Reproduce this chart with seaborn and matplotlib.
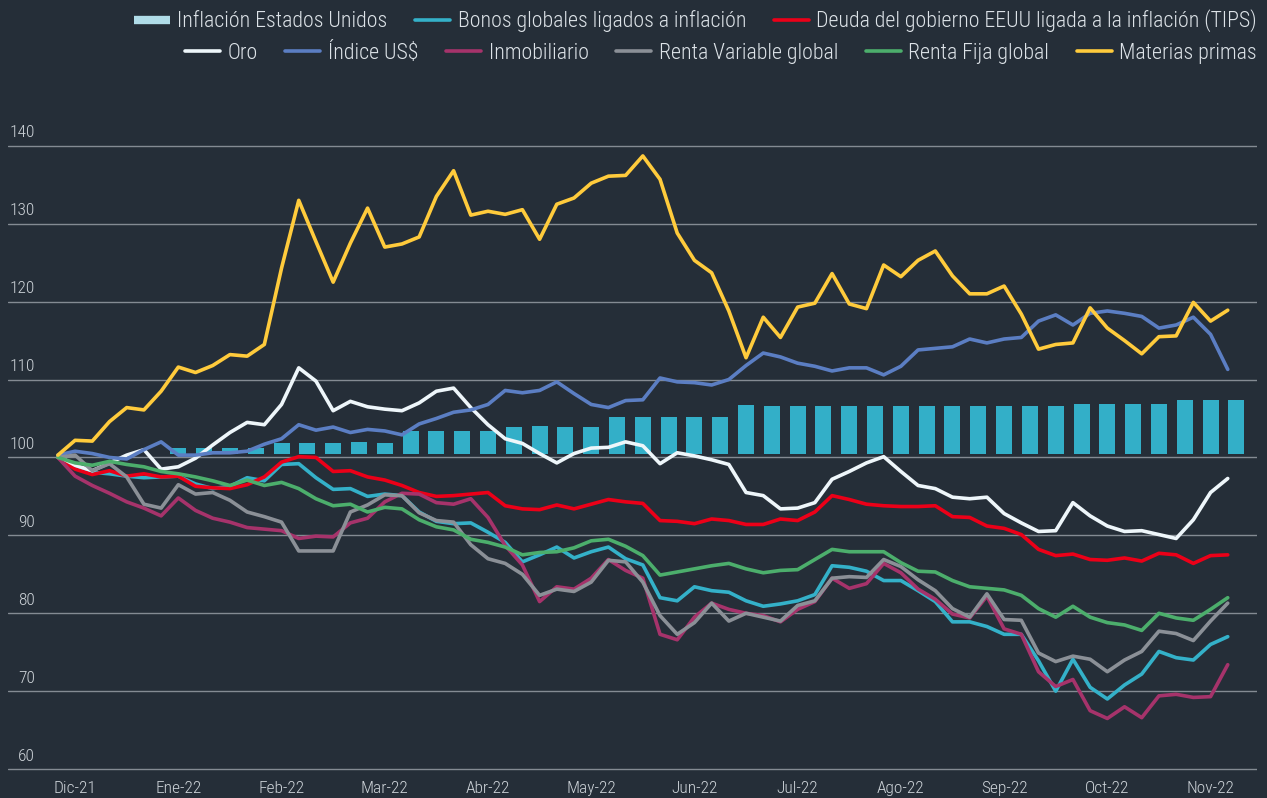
import numpy as np
import pandas as pd
import matplotlib
matplotlib.use("Agg")
import matplotlib.pyplot as plt
import matplotlib.transforms as mtransforms
from matplotlib.lines import Line2D
import seaborn as sns

# x axis: one unit per month label, lines sampled every 1/6 month,
# first sample 1/6 month before Dic-21
months = ["Dic-21", "Ene-22", "Feb-22", "Mar-22", "Abr-22", "May-22",
          "Jun-22", "Jul-22", "Ago-22", "Sep-22", "Oct-22", "Nov-22"]
step = 1 / 6

materias = [100.3, 102.2, 102.1, 104.6, 106.4, 106.1,
            108.5, 111.6, 110.9, 111.8, 113.2, 113.0,
            114.5, 124.3, 133.0, 127.7, 122.5, 127.5,
            132.0, 127.0, 127.4, 128.3, 133.5, 136.8,
            131.1, 131.6, 131.2, 131.8, 128.0, 132.5,
            133.3, 135.2, 136.1, 136.2, 138.7, 135.7,
            128.8, 125.3, 123.7, 118.8, 112.8, 118.0,
            115.4, 119.3, 119.8, 123.6, 119.7, 119.1,
            124.7, 123.2, 125.3, 126.5, 123.3, 121.0,
            121.0, 122.0, 118.4, 113.9, 114.5, 114.7,
            119.2, 116.6, 115.0, 113.3, 115.5, 115.6,
            119.9, 117.5, 118.9]
indice_usd = [100.3, 100.8, 100.5, 100.0, 99.8, 101.0,
              102.0, 100.3, 100.3, 100.6, 100.6, 100.8,
              101.7, 102.4, 104.2, 103.5, 103.9, 103.2,
              103.6, 103.4, 102.9, 104.3, 105.0, 105.8,
              106.1, 106.8, 108.6, 108.3, 108.6, 109.7,
              108.2, 106.8, 106.4, 107.3, 107.4, 110.2,
              109.7, 109.6, 109.3, 110.0, 111.8, 113.4,
              112.9, 112.1, 111.7, 111.1, 111.5, 111.5,
              110.6, 111.7, 113.8, 114.0, 114.2, 115.2,
              114.7, 115.2, 115.4, 117.5, 118.3, 117.0,
              118.5, 118.8, 118.5, 118.1, 116.6, 117.0,
              118.0, 115.8, 111.3]
oro = [100.2, 99.0, 98.3, 99.3, 100.3, 101.0,
       98.5, 98.8, 99.9, 101.6, 103.2, 104.5,
       104.2, 106.8, 111.5, 109.8, 106.0, 107.2,
       106.5, 106.2, 106.0, 107.0, 108.5, 108.9,
       106.4, 104.2, 102.4, 101.8, 100.5, 99.3,
       100.5, 101.2, 101.3, 102.0, 101.5, 99.2,
       100.6, 100.2, 99.7, 99.1, 95.5, 95.1,
       93.4, 93.5, 94.2, 97.2, 98.2, 99.3,
       100.1, 98.2, 96.4, 96.0, 94.9, 94.7,
       94.9, 92.8, 91.6, 90.5, 90.6, 94.2,
       92.5, 91.2, 90.5, 90.6, 90.1, 89.6,
       92.0, 95.5, 97.3]
tips = [100.0, 98.5, 97.8, 98.3, 97.6, 97.9,
        97.5, 97.6, 96.3, 96.1, 96.0, 96.5,
        97.5, 99.4, 100.1, 100.0, 98.2, 98.3,
        97.5, 97.1, 96.4, 95.5, 95.0, 95.1,
        95.3, 95.5, 93.8, 93.4, 93.3, 93.9,
        93.4, 94.0, 94.6, 94.3, 94.1, 91.9,
        91.8, 91.5, 92.1, 91.9, 91.4, 91.4,
        92.1, 91.9, 93.0, 95.1, 94.6, 94.0,
        93.8, 93.7, 93.7, 93.8, 92.4, 92.3,
        91.2, 90.9, 90.1, 88.2, 87.4, 87.6,
        86.9, 86.8, 87.1, 86.7, 87.7, 87.5,
        86.4, 87.4, 87.5]
bonos = [100.2, 98.8, 98.1, 97.9, 97.6, 97.4,
         97.5, 97.6, 96.6, 96.0, 96.3, 97.4,
         97.0, 99.1, 99.2, 97.4, 95.9, 96.0,
         95.0, 95.3, 95.1, 93.0, 91.8, 91.5,
         91.6, 90.4, 89.1, 86.6, 87.5, 88.5,
         87.1, 87.9, 88.5, 87.0, 86.2, 82.0,
         81.6, 83.4, 82.9, 82.7, 81.6, 80.9,
         81.2, 81.6, 82.4, 86.1, 85.9, 85.4,
         84.2, 84.2, 82.9, 81.5, 78.9, 78.9,
         78.3, 77.3, 77.3, 73.9, 70.0, 74.1,
         70.5, 69.0, 70.8, 72.2, 75.1, 74.3,
         74.0, 76.0, 77.0]
renta_fija = [100.0, 99.3, 99.0, 99.5, 99.1, 98.8,
              98.2, 97.9, 97.5, 97.0, 96.4, 97.1,
              96.4, 96.8, 96.0, 94.7, 93.8, 94.0,
              93.0, 93.6, 93.4, 92.0, 91.1, 90.7,
              89.5, 89.1, 88.5, 87.5, 87.8, 87.9,
              88.4, 89.3, 89.5, 88.6, 87.4, 84.9,
              85.3, 85.7, 86.1, 86.4, 85.7, 85.2,
              85.5, 85.6, 86.9, 88.2, 87.9, 87.9,
              87.9, 86.5, 85.4, 85.3, 84.2, 83.4,
              83.2, 83.0, 82.3, 80.6, 79.5, 80.9,
              79.5, 78.8, 78.5, 77.8, 80.0, 79.4,
              79.1, 80.5, 82.0]
renta_variable = [100.0, 100.3, 98.3, 99.2, 97.5, 94.0,
                  93.5, 96.5, 95.3, 95.5, 94.5, 93.0,
                  92.4, 91.7, 88.0, 88.0, 88.0, 93.0,
                  93.9, 95.2, 95.1, 92.9, 91.9, 91.7,
                  88.8, 87.0, 86.4, 85.0, 82.3, 83.1,
                  82.8, 84.0, 86.8, 86.6, 84.0, 79.7,
                  77.3, 78.8, 81.3, 79.0, 80.0, 79.5,
                  79.0, 81.0, 81.6, 84.5, 84.7, 84.6,
                  86.9, 86.0, 84.3, 82.9, 80.6, 79.5,
                  82.5, 79.2, 79.1, 74.9, 73.8, 74.5,
                  74.1, 72.5, 74.0, 75.1, 77.7, 77.4,
                  76.5, 79.0, 81.3]
inmobiliario = [100.0, 97.6, 96.4, 95.4, 94.3, 93.5,
                92.5, 94.8, 93.2, 92.2, 91.7, 91.0,
                90.8, 90.6, 89.6, 89.9, 89.8, 91.6,
                92.2, 94.3, 95.4, 95.3, 94.2, 94.0,
                94.7, 92.3, 88.7, 86.2, 81.5, 83.4,
                83.1, 84.5, 86.9, 85.5, 84.5, 77.3,
                76.6, 79.5, 81.3, 80.5, 80.0, 79.7,
                78.9, 80.5, 81.5, 84.5, 83.2, 83.8,
                86.4, 85.2, 83.1, 81.8, 79.9, 79.4,
                82.2, 78.0, 77.3, 72.5, 70.6, 71.5,
                67.5, 66.5, 68.0, 66.6, 69.4, 69.6,
                69.2, 69.3, 73.4]

# weekly bars (4 per month label) starting at Ene-22
inflacion_us = [101.2, 101.2, 101.2, 101.2,
                101.9, 101.9, 101.9, 102.0, 101.9,
                103.4, 103.4, 103.4, 103.4,
                103.9, 104.1, 103.9, 103.9,
                105.2, 105.2, 105.2, 105.2, 105.2,
                106.7, 106.6, 106.6, 106.6, 106.6, 106.6, 106.6,
                106.6, 106.6, 106.6, 106.6, 106.6, 106.6,
                106.8, 106.9, 106.8, 106.8,
                107.4, 107.4, 107.4]
bar_base = 100.5

series = {
    "Bonos globales ligados a inflación": bonos,
    "Deuda del gobierno EEUU ligada a la inflación (TIPS)": tips,
    "Oro": oro,
    "Índice US$": indice_usd,
    "Inmobiliario": inmobiliario,
    "Renta Variable global": renta_variable,
    "Renta Fija global": renta_fija,
    "Materias primas": materias,
}
colors = {
    "Bonos globales ligados a inflación": "#34b1c9",
    "Deuda del gobierno EEUU ligada a la inflación (TIPS)": "#ec0018",
    "Oro": "#eef6fa",
    "Índice US$": "#5b7ec3",
    "Inmobiliario": "#a6336b",
    "Renta Variable global": "#8b9097",
    "Renta Fija global": "#4cae6c",
    "Materias primas": "#ffcb3c",
}
bar_color = "#33afc8"
bar_legend_color = "#b0dce8"

bg = "#252e38"
grid_c = "#848b93"
text_c = "#dde3e8"
tick_c = "#cdd3d8"

sns.set_theme(style="dark")
plt.rcParams["font.family"] = ["Roboto Condensed", "Liberation Sans Narrow", "DejaVu Sans"]
plt.rcParams["font.stretch"] = "condensed"
plt.rcParams["font.weight"] = "light"

x = (np.arange(len(oro)) - 1) * step
long = pd.concat([pd.DataFrame({"x": x, "valor": v, "serie": k}) for k, v in series.items()])

fig = plt.figure(figsize=(12.67, 7.98), dpi=100, facecolor=bg)
ax = fig.add_axes([8 / 1267, 25 / 798, 1249 / 1267, 635 / 798])
ax.set_facecolor(bg)

xb = 1 + np.arange(len(inflacion_us)) / 4
ax.bar(xb, np.array(inflacion_us) - bar_base, bottom=bar_base, width=0.155,
       color=bar_color, zorder=2, linewidth=0)

sns.lineplot(data=long, x="x", y="valor", hue="serie", hue_order=list(series),
             palette=colors, linewidth=2.6, legend=False, ax=ax, zorder=3)

ax.set_xlim(-0.65, 11.45)
ax.set_ylim(59.5, 141)
yt = list(range(60, 141, 10))
ax.set_yticks(yt)
ax.set_yticklabels([])
ax.grid(axis="y", color=grid_c, linewidth=1.0)
ax.grid(axis="x", visible=False)
ax.set_xticks(range(len(months)))
ax.set_xticklabels(months, color=tick_c, fontsize=12.5)
ax.tick_params(axis="x", length=0, pad=6)
ax.tick_params(axis="y", length=0)
ax.set_xlabel("")
ax.set_ylabel("")
for s in ax.spines.values():
    s.set_visible(False)

trans = mtransforms.offset_copy(
    mtransforms.blended_transform_factory(ax.transAxes, ax.transData),
    fig=fig, x=0, y=13, units="dots")
for v in yt:
    ax.text(27 / 1249, v, str(v), transform=trans, ha="right", va="center",
            color=tick_c, fontsize=12.5)

names = list(series)


def make_legends(fs):
    kw = dict(frameon=False, fontsize=fs, labelcolor=text_c, handlelength=1.6,
              handletextpad=0.35, columnspacing=1.25, borderpad=0, borderaxespad=0)
    h1 = [Line2D([], [], color=bar_legend_color, lw=6, solid_capstyle="butt")] + \
         [Line2D([], [], color=colors[n], lw=2.6) for n in names[:2]]
    l1 = ["Inflación Estados Unidos"] + names[:2]
    a = fig.legend(h1, l1, loc="center right", bbox_to_anchor=(1257 / 1267, 1 - 21 / 798),
                   ncol=3, **kw)
    h2 = [Line2D([], [], color=colors[n], lw=2.6) for n in names[2:]]
    b = fig.legend(h2, names[2:], loc="center right", bbox_to_anchor=(1257 / 1267, 1 - 53 / 798),
                   ncol=6, **kw)
    return a, b


# size the legend text so the first row spans the same width as the reference
fs = 14
leg1, leg2 = make_legends(fs)
fig.canvas.draw()
w = leg1.get_window_extent().width
leg1.remove()
leg2.remove()
fs = fs * 1126 / w
leg1, leg2 = make_legends(fs)

fig.savefig("out.png", dpi=100, facecolor=bg)
